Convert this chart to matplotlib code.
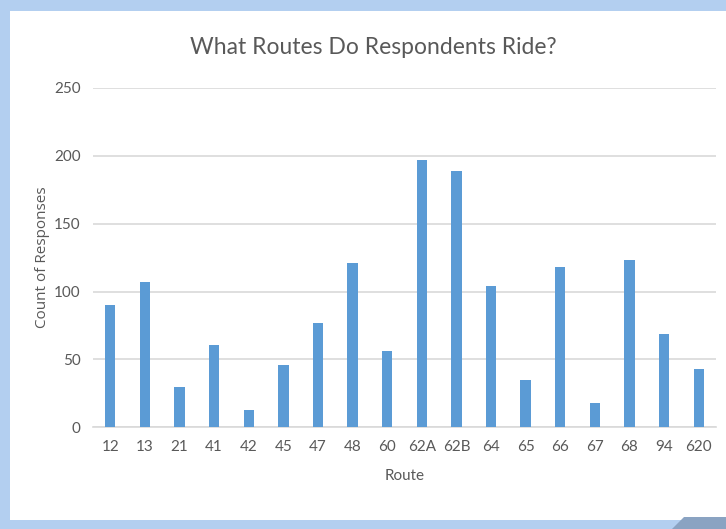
import matplotlib.pyplot as plt
import numpy as np
from matplotlib.patches import Rectangle, Polygon

routes = ['12', '13', '21', '41', '42', '45', '47', '48', '60', '62A',
          '62B', '64', '65', '66', '67', '68', '94', '620']
counts = [90, 107, 30, 61, 13, 46, 77, 121, 56, 197,
          189, 104, 35, 118, 18, 123, 69, 43]
yticks = [0, 50, 100, 150, 200, 250]

narrow = ['Lato', 'DejaVu Sans']
grey = '#595959'

fig = plt.figure(figsize=(7.26, 5.29), dpi=100)
fig.patch.set_facecolor('#b3cff0')

# white panel inside the blue frame
fig.patches.append(Rectangle((10/726, 9/529), 716/726, 509/529,
                             transform=fig.transFigure, facecolor='white',
                             edgecolor='none', zorder=0))
fig.patches.append(Polygon([(672/726, 0), (684/726, 12/529), (1, 12/529), (1, 0)],
                           closed=True, transform=fig.transFigure,
                           facecolor='#8aa3c2', edgecolor='none', zorder=0))

ax = fig.add_axes([93/726, 101.7/529, 623/726, 339.3/529])
ax.set_zorder(2)
ax.set_facecolor('none')

x = np.arange(len(routes))
ax.bar(x, counts, width=0.3, color='#5b9bd5', zorder=3)

ax.set_xlim(-0.5, len(routes) - 0.5)
ax.set_ylim(0, 250)
ax.set_yticks(yticks)
ax.set_xticks(x)
ax.set_xticklabels(routes)
ax.yaxis.grid(True, color='#d9d9d9', linewidth=1.2)
ax.set_axisbelow(True)

for s in ['top', 'right', 'left']:
    ax.spines[s].set_visible(False)
ax.spines['bottom'].set_color('#d9d9d9')
ax.spines['bottom'].set_linewidth(1.2)
ax.tick_params(axis='both', length=0, colors=grey, labelsize=11)
ax.tick_params(axis='y', pad=9)
ax.tick_params(axis='x', pad=9)
for lab in ax.get_xticklabels() + ax.get_yticklabels():
    lab.set_family(narrow)

ax.set_xlabel('Route', fontsize=11, color=grey, family=narrow, labelpad=11)
ax.set_ylabel('Count of Responses', fontsize=11, color=grey,
              family='Open Sans', labelpad=3)

t = fig.text(373/726, 1 - 47/529, 'What Routes Do Respondents Ride?', ha='center',
             va='center', fontsize=16.5, color=grey, family=narrow)
t.set_zorder(3)

fig.savefig('out.png', dpi=100, facecolor=fig.get_facecolor())
